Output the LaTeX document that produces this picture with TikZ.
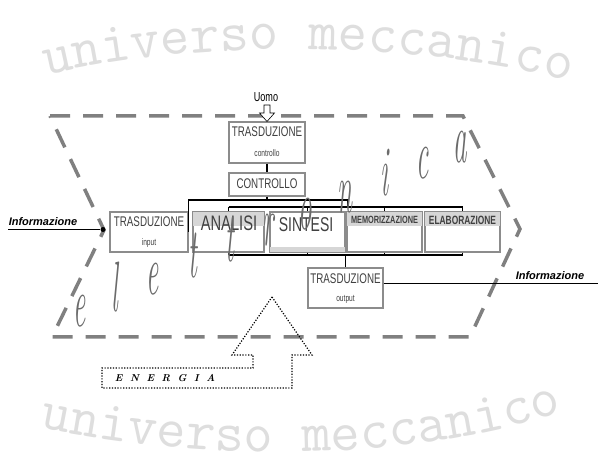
\documentclass[tikz,border=0pt]{standalone}
\usepackage{fontspec}
\usetikzlibrary{decorations.text,calc}
\newfontfamily\narrowfont[FakeStretch=0.7]{Liberation Sans}
\newfontfamily\plainsans{Liberation Sans}
\tikzset{
 box/.style={draw=black!45, line width=1.3pt, fill=white, inner sep=0pt},
 bus/.style={line width=1.1pt, draw=black},
 lbl/.style={text=black!75, inner sep=0pt},
 wmark/.style={decorate, decoration={text along path, text align=center, text color=black!13}},
 elet/.style={text=black!58, inner sep=0pt, anchor=base},
 hexa/.style={draw=black!50, line width=3.5pt, dash pattern=on 20pt off 13pt},
 energia/.style={draw=black, line width=1.2pt, dash pattern=on 1.2pt off 1.6pt},
 band/.style={fill=black!16},
 info/.style={font=\plainsans\bfseries\itshape\fontsize{11}{11}\selectfont, inner sep=0pt},
}
\begin{document}
\begin{tikzpicture}[x=1pt,y=-1pt]
\useasboundingbox[fill=white] (0,0) rectangle (598,462);

% watermarks
\path[wmark, decoration={text={|\ttfamily\fontsize{57}{57}\selectfont|universo meccanico}}]
  (28,80) .. controls (180,38) and (420,38) .. (588,86);
\path[wmark, decoration={text={|\ttfamily\fontsize{57}{57}\selectfont|universo meccanico}}]
  (22,424) .. controls (200,464) and (420,464) .. (580,406);

% dashed boundary
\draw[hexa] (50,116) -- (463,116) -- (520,229) -- (470,337) -- (52,337) -- (104,230) -- cycle;

% energy arrow
\draw[energia] (272,297) -- (312,355) -- (292,355) -- (292,388) -- (102,388) -- (102,368)
  -- (253,368) -- (253,355) -- (232,355) -- cycle;
\node[font=\bfseries\itshape\fontsize{10}{10}\selectfont, inner sep=0pt] (en) at (165,378)
  {E\hspace{7.5pt}N\hspace{7.5pt}E\hspace{7.5pt}R\hspace{7.5pt}G\hspace{7.5pt}I\hspace{7.5pt}A};

% boxes
\node[box, minimum width=76pt, minimum height=41pt] (tctl) at (267,142.5) {};
\node[box, minimum width=76pt, minimum height=23pt] (ctl) at (267,184.5) {};
\node[box, minimum width=78pt, minimum height=40pt] (tin) at (149,232) {};
\node[box, minimum width=71pt, minimum height=40pt] (ana) at (228.5,232) {};
\node[box, minimum width=75pt, minimum height=40pt] (sin) at (307.5,232) {};
\node[box, minimum width=75pt, minimum height=40pt] (mem) at (384.5,232) {};
\node[box, minimum width=75pt, minimum height=40pt] (ela) at (462.5,232) {};
\node[box, minimum width=75pt, minimum height=40pt] (tout) at (345.5,288) {};

\foreach \b in {ana,mem,ela}{
  \fill[band] ([shift={(1,1)}]\b.north west) rectangle ([shift={(-1,15)}]\b.north east);
}
\fill[band] ([shift={(1,-6)}]sin.south west) rectangle ([shift={(-1,-1)}]sin.south east);

% texts in boxes
\node[lbl, font=\narrowfont\fontsize{14}{14}\selectfont] (t1) at (267,132) {TRASDUZIONE};
\node[lbl, font=\narrowfont\fontsize{9.5}{9.5}\selectfont] (t2) at (267,153) {controllo};
\node[lbl, font=\narrowfont\fontsize{14}{14}\selectfont] (t3) at (267,184) {CONTROLLO};
\node[lbl, font=\narrowfont\fontsize{14}{14}\selectfont] (t4) at (149,222) {TRASDUZIONE};
\node[lbl, font=\narrowfont\fontsize{9.5}{9.5}\selectfont] (t5) at (149,243) {input};
\node[lbl, font=\narrowfont\fontsize{21}{21}\selectfont] (t6) at (229,223.5) {ANALISI};
\node[lbl, font=\narrowfont\fontsize{20}{20}\selectfont] (t7) at (306,225) {SINTESI};
\node[lbl, font=\narrowfont\bfseries\fontsize{10.5}{10.5}\selectfont] (t8) at (384.5,220) {MEMORIZZAZIONE};
\node[lbl, font=\narrowfont\bfseries\fontsize{12}{12}\selectfont] (t9) at (462.5,220.5) {ELABORAZIONE};
\node[lbl, font=\narrowfont\fontsize{14}{14}\selectfont] (t10) at (345.5,279) {TRASDUZIONE};
\node[lbl, font=\narrowfont\fontsize{9.5}{9.5}\selectfont] (t11) at (345.5,299) {output};

% buses
\coordinate (b1) at (188,200);
\coordinate (b1r) at (348,200);
\coordinate (b2l) at (228.5,207);
\coordinate (b2r) at (462.5,207);
\coordinate (b3l) at (228.5,255);
\coordinate (b3r) at (462.5,255);
\draw[bus] (tctl.south) -- (ctl.north);
\draw[bus] (ctl.south) -- (ctl.south |- b1);
\draw[bus] (tin.east) -- (tin.east |- b1) -- (b1r) -- (b1r |- b2l);
\draw[bus] (b2l) -- (b2r);
\foreach \b in {ana,sin,mem,ela}{
  \draw[bus] (\b.north |- b2l) -- (\b.north);
  \draw[bus] (\b.south) -- (\b.south |- b3l);
}
\draw[bus] (b3l) -- (b3r);
\draw[bus] (tout.north |- b3l) -- (tout.north);

% information in / out
\coordinate (infoL) at (8,229.5);
\coordinate (infoR) at (598,283);
\node[circle, fill=black, inner sep=0pt, minimum size=5pt] (dot) at (103,229.5) {};
\draw[line width=0.8pt] (infoL) -- (dot);
\draw[line width=0.8pt] (tout.east |- infoR) -- (infoR);
\node[info] (inl) at (43,222) {Informazione};
\node[info] (inr) at (550,276) {Informazione};

% Uomo
\node[font=\narrowfont\fontsize{13}{13}\selectfont, inner sep=0pt] (uomo) at (266,97) {Uomo};
\draw[fill=white, line width=0.6pt] (264,105) -- (270,105) -- (270,113) -- (274.5,113)
  -- (267,121.5) -- (259.5,113) -- (264,113) -- cycle;

% elettronica watermark letters
\foreach \c/\x/\y in {e/80/327, l/115/312, e/153/295, t/193/278, t/230/262, r/268/246,
                      o/305/230, n/345/213, i/385/196, c/423/179, a/460/163}{
  \node[elet] at (\x,\y) {\scalebox{0.8}[2.1]{\fontsize{34}{34}\selectfont\itshape \c}};
}
\end{tikzpicture}
\end{document}
